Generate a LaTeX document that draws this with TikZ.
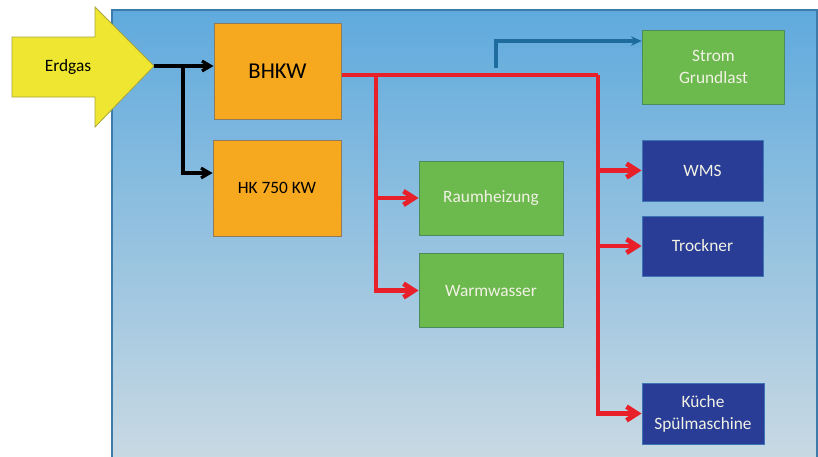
\documentclass[tikz,border=0pt]{standalone}
\usepackage{fontspec}
\setmainfont{Carlito}
\usepackage{tikz}
\usetikzlibrary{arrows.meta,positioning,calc}
\definecolor{bgtop}{HTML}{5FAADD}
\definecolor{bgbot}{HTML}{C9D9E3}
\definecolor{bgedge}{HTML}{3C7BAA}
\definecolor{gasyellow}{HTML}{EEE630}
\definecolor{gasedge}{HTML}{A9A63A}
\definecolor{plantorange}{HTML}{F6A91F}
\definecolor{plantedge}{HTML}{8C7B5E}
\definecolor{usegreen}{HTML}{6CB94E}
\definecolor{useedge}{HTML}{4A8C5C}
\definecolor{usenavy}{HTML}{293D97}
\definecolor{navyedge}{HTML}{3C74B4}
\definecolor{heatred}{HTML}{E8202A}
\definecolor{powerblue}{HTML}{1E6C9E}
\definecolor{lighttext}{HTML}{F2F2E4}
\tikzset{
  plantbox/.style={draw=plantedge,fill=plantorange,line width=0.7pt,
                   align=center,inner sep=3pt,
                   font=\fontsize{13}{16}\selectfont},
  greenbox/.style={draw=useedge,fill=usegreen,line width=0.7pt,
                   align=center,inner sep=3pt,text=lighttext,
                   font=\fontsize{13}{16.5}\selectfont},
  navybox/.style={draw=navyedge,fill=usenavy,line width=0.7pt,
                  align=center,inner sep=3pt,text=lighttext,
                  font=\fontsize{13}{16.5}\selectfont},
  gasarr/.style={-{Straight Barb[length=2.2mm,width=2.6mm]},line width=2.4pt,
                 draw=black},
  heatline/.style={line width=3.6pt,draw=heatred},
  heatarr/.style={heatline,-{Straight Barb[length=2.8mm,width=3.6mm]}},
  powerarr/.style={-{Stealth[length=2.8mm,width=2.5mm]},line width=2.5pt,
                   draw=powerblue}
}
\begin{document}
\begin{tikzpicture}[x=0.75pt,y=-0.75pt]
    \useasboundingbox (0,0) rectangle (818,457);
    \fill[white] (0,0) rectangle (818,457);

    % background panel
    \shade[top color=bgtop,bottom color=bgbot] (112,10) rectangle (817,460);
    \draw[bgedge,line width=0.8pt] (112,460) -- (112,10) -- (817,10) -- (817,460);

    % gas input arrow
    \filldraw[fill=gasyellow,draw=gasedge,line width=0.6pt]
      (12,37) -- (95,37) -- (95,7) -- (154,66) -- (95,127) -- (95,97)
      -- (12,97) -- cycle;
    \node[font=\fontsize{13}{16}\selectfont] (erdgas) at (68,67) {Erdgas};
    \coordinate (gastip) at (154,66);
    \coordinate (gassplit) at (183,66);

    \node[plantbox,minimum width=95.3pt,minimum height=72pt,
          font=\fontsize{17}{20}\selectfont] (bhkw) at (277.5,71) {BHKW};
    \node[plantbox,minimum width=96pt,minimum height=72pt] (hk)
      at (277,188) {HK 750 KW};

    \node[greenbox,minimum width=108pt,minimum height=55.5pt] (raum)
      at (491,198) {Raumheizung};
    \node[greenbox,minimum width=108pt,minimum height=55pt] (warm)
      at (491,290.5) {Warmwasser};
    \node[greenbox,minimum width=107pt,minimum height=55.5pt] (strom)
      at (713.5,67) {Strom\\Grundlast};

    \node[navybox,minimum width=90.8pt,minimum height=45.8pt] (wms)
      at (702.5,170.5) {WMS};
    \node[navybox,minimum width=90.8pt,minimum height=45pt] (trockner)
      at (702.5,246) {Trockner};
    \node[navybox,minimum width=91.5pt,minimum height=45.8pt] (kueche)
      at (703,413.5) {Küche\\Spülmaschine};

    % gas
    \draw[gasarr] (gastip) -- (gastip -| bhkw.west);
    \draw[gasarr] (gassplit) |- ($(hk.west)+(0,-15)$);

    % heat
    \coordinate (heatsplit) at (376,75);
    \coordinate (kitchensplit) at (598,75);
    \draw[heatline] ($(bhkw.east)+(0,4)$) -- (kitchensplit);
    \draw[heatarr] (kitchensplit) |- (kueche.west);
    \draw[heatarr] (kitchensplit |- wms.west) -- (wms.west);
    \draw[heatarr] (kitchensplit |- trockner.west) -- (trockner.west);
    \draw[heatline] ($(hk.east)+(0,-16)$) -- ($(hk.east)+(0,-16)$ -| heatsplit);
    \draw[heatarr] (heatsplit) |- (warm.west);
    \draw[heatarr] (heatsplit |- raum.west) -- (raum.west);

    % power
    \coordinate (powertap) at (496,68);
    \draw[powerarr] (powertap) |- ($(strom.west)+(0,-26)$);
  \end{tikzpicture}
\end{document}
